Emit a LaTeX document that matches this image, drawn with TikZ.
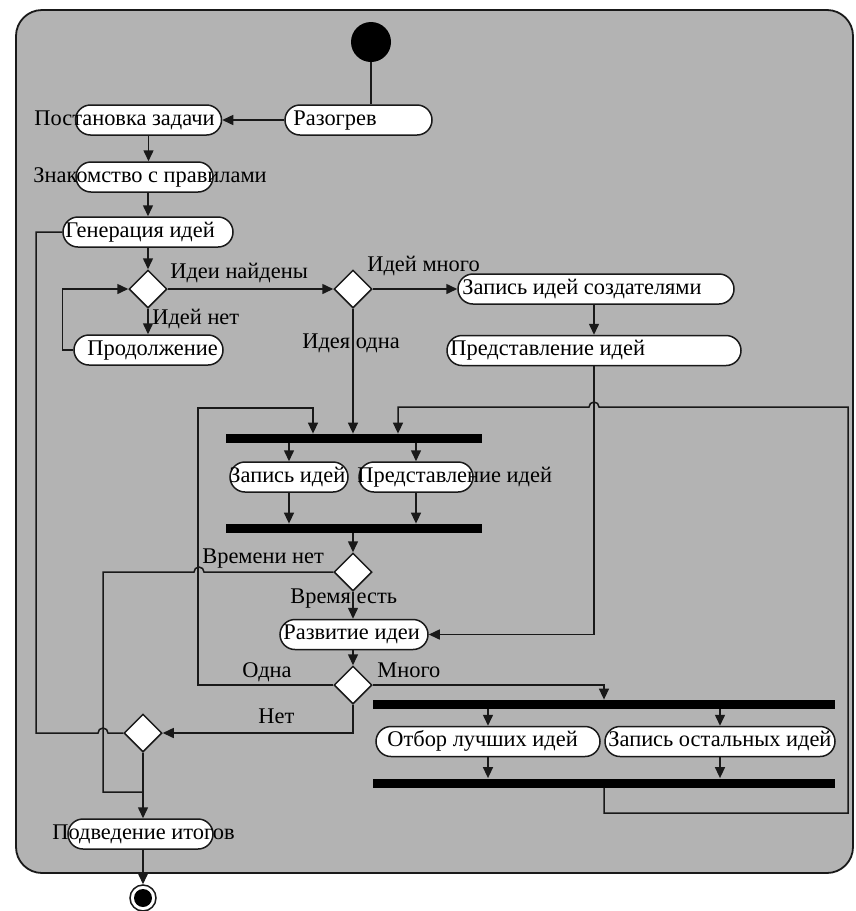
\documentclass[tikz,border=0pt]{standalone}
\usepackage{fontspec}
\setmainfont{Liberation Serif}
\usepackage{tikz}
\usetikzlibrary{shapes.geometric,shapes.misc,arrows.meta}

\definecolor{panel}{RGB}{179,179,179}
\definecolor{ink}{RGB}{25,25,25}

\tikzset{
  act/.style={draw=ink, fill=white, rounded rectangle, minimum height=15pt, inner sep=0pt, line width=.75pt},
  txt/.style={anchor=west, inner sep=0pt, text height=7.5pt, text depth=2.5pt},
  cond/.style={draw=ink, fill=white, diamond, minimum width=19pt, minimum height=19pt, inner sep=0pt, line width=.75pt},
  bar/.style={fill=black, inner sep=0pt, minimum height=4.5pt},
  flow/.style={draw=ink, line width=.75pt, -{Triangle[length=5.5pt,width=5pt]}},
  wire/.style={draw=ink, line width=.75pt}
}

\begin{document}
\begin{tikzpicture}[x=.5pt,y=-.5pt,font=\fontsize{11.2}{13}\selectfont]
\useasboundingbox (0,0) rectangle (856,911);
\fill[white] (0,0) rectangle (856,911);
\draw[ink, fill=panel, line width=.9pt, rounded corners=13pt] (16,10) rectangle (853,873);

% start, warm-up and first steps
\node[circle, fill=black, minimum size=20pt, inner sep=0pt] (start) at (371,42) {};
\node[act, minimum width=73.5pt] (razogrev) at (358.5,120) {};
\node[txt] (razogrev-t) at (293,120) {Разогрев};
\node[act, minimum width=73pt] (postanovka) at (148.5,120) {};
\node[txt] (postanovka-t) at (34,120) {Постановка задачи};
\node[act, minimum width=68.5pt] (znakomstvo) at (144.5,177) {};
\node[txt] (znakomstvo-t) at (33,177) {Знакомство с правилами};
\node[act, minimum width=85pt] (generatsiya) at (148,232) {};
\node[txt] (generatsiya-t) at (65,232) {Генерация идей};
\node[cond] (found) at (148,289) {};
\node[act, minimum width=74.5pt] (prodolzhenie) at (148.5,350) {};
\node[txt] (prodolzhenie-t) at (87,350) {Продолжение};
\node[cond] (many) at (353,289) {};
\node[act, minimum width=138pt] (zapis1) at (596,289) {};
\node[txt] (zapis1-t) at (462,289) {Запись идей создателями};
\node[act, minimum width=147pt] (predst1) at (594,350.5) {};
\node[txt] (predst1-t) at (450,350.5) {Представление идей};

% parallel part
\node[bar, minimum width=128pt] (fork1) at (354,438.5) {};
\node[act, minimum width=59pt] (zapis2) at (289,477) {};
\node[txt] (zapis2-t) at (229,477) {Запись идей};
\node[act, minimum width=57pt] (predst2) at (416,477) {};
\node[txt] (predst2-t) at (357,477) {Представление идей};
\node[bar, minimum width=128pt] (fork2) at (354,528.5) {};
\node[cond] (time) at (353,572) {};
\node[act, minimum width=74pt] (razvitie) at (354,634.5) {};
\node[txt] (razvitie-t) at (283,634.5) {Развитие идеи};
\node[cond] (count) at (353,685) {};
\node[bar, minimum width=231pt] (fork3) at (604,704.5) {};
\node[act, minimum width=112pt] (otbor) at (488,741.5) {};
\node[txt] (otbor-t) at (387,741.5) {Отбор лучших идей};
\node[act, minimum width=115pt] (zapis3) at (720,741.5) {};
\node[txt] (zapis3-t) at (608,741.5) {Запись остальных идей};
\node[bar, minimum width=231pt] (fork4) at (604,783) {};

% end
\node[cond] (merge) at (143,733) {};
\node[act, minimum width=72.5pt] (itogi) at (140.5,834) {};
\node[txt] (itogi-t) at (52,834) {Подведение итогов};
\node[draw=ink, circle, fill=white, minimum size=13pt, inner sep=0pt, line width=.75pt] (finish) at (143,898) {};
\fill (finish) circle (4.5pt);

% guards
\node[txt] (found-yes) at (170,273) {Идеи найдены};
\node[txt] (found-no) at (152,319) {Идей нет};
\node[txt] (many-yes) at (367,266) {Идей много};
\node[txt] (many-no) at (302,343) {Идея одна};
\node[txt] (time-no) at (202,558) {Времени нет};
\node[txt] (time-yes) at (290,598) {Время есть};
\node[txt] (count-one) at (242,672) {Одна};
\node[txt] (count-many) at (377,672) {Много};
\node[txt] (count-none) at (258,718) {Нет};

% connectors
\draw[wire, line width=1.1pt] (start) -- (start |- razogrev.north);
\draw[flow] (razogrev.west) -- (postanovka.east);
\draw[flow] (postanovka.south) -- (postanovka.south |- znakomstvo.north);
\draw[flow] (generatsiya.north |- znakomstvo.south) -- (generatsiya.north);
\draw[flow] (generatsiya.south) -- (found.north);
\draw[flow] (found.east) -- (many.west);
\draw[flow] (found.south) -- (found.south |- prodolzhenie.north);
\draw[flow] (prodolzhenie.west) -- ++(-11,0) |- (found.west);
\draw[flow] (many.east) -- (zapis1.west);
\draw[flow] (predst1.north |- zapis1.south) -- (predst1.north);
\draw[flow] (many.south) -- (many.south |- fork1.north);
\draw[flow] (predst1.south) |- (razvitie.east);
\draw[flow] (fork1.south -| zapis2) -- (zapis2.north);
\draw[flow] (fork1.south -| predst2) -- (predst2.north);
\draw[flow] (zapis2.south) -- (zapis2.south |- fork2.north);
\draw[flow] (predst2.south) -- (predst2.south |- fork2.north);
\draw[flow] (fork2.south -| time) -- (time.north);
\draw[flow] (time.south) -- (time.south |- razvitie.north);
\draw[flow] (razvitie.south -| count) -- (count.north);
\draw[flow] (count.east) -| (fork3.north);
\draw[flow] (fork3.south -| otbor) -- (otbor.north);
\draw[flow] (fork3.south -| zapis3) -- (zapis3.north);
\draw[flow] (otbor.south) -- (otbor.south |- fork4.north);
\draw[flow] (zapis3.south) -- (zapis3.south |- fork4.north);

% loops back to the first fork
\coordinate (back1) at (313,408);
\coordinate (back2) at (398,407);
\draw[flow] (count.west) -| (198,408) -- (back1) -- (back1 |- fork1.north);
\draw[flow] (fork4.south) |- (848,813) |- (599,407) arc[start angle=0,end angle=180,radius=2.5pt] -- (back2) -- (back2 |- fork1.north);

% exits
\draw[wire] (time.west) -- (204,572) arc[start angle=0,end angle=180,radius=2.5pt] -- (103,572) |- (143,792);
\draw[flow] (count.south) |- (merge.east);
\draw[wire] (merge.west) -- (108,733) arc[start angle=0,end angle=180,radius=2.5pt] -- (36,733) |- (generatsiya.west);
\draw[flow] (merge.south) -- (merge.south |- itogi.north);
\draw[flow] (itogi.south -| finish) -- (finish.north);
\end{tikzpicture}
\end{document}
